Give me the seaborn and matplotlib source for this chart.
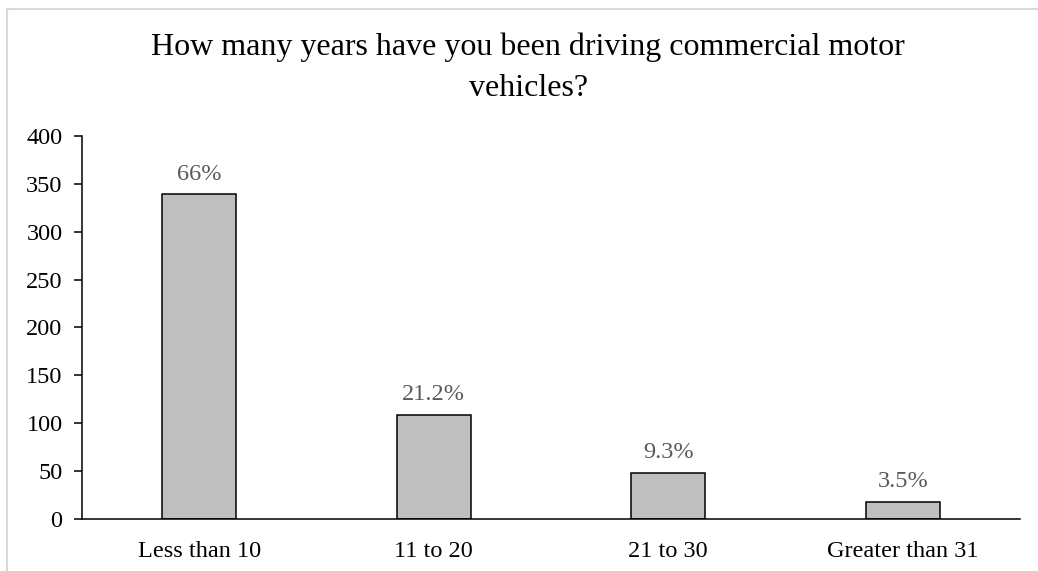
import matplotlib
matplotlib.use("Agg")
import matplotlib.pyplot as plt
import seaborn as sns
from matplotlib.patches import Rectangle

categories = ["Less than 10", "11 to 20", "21 to 30", "Greater than 31"]
counts = [339, 109, 48, 18]
pct_labels = ["66%", "21.2%", "9.3%", "3.5%"]
y_ticks = [0, 50, 100, 150, 200, 250, 300, 350, 400]
title = "How many years have you been driving commercial motor\nvehicles?"

sns.set_theme(style="white")
plt.rcParams["font.family"] = ["Liberation Serif", "DejaVu Serif"]

fig = plt.figure(figsize=(10.38, 5.71), dpi=100)
ax = fig.add_axes([0.079, 0.0911, 0.9037, 0.6707])

sns.barplot(x=categories, y=counts, color="#bfbfbf", edgecolor="black",
            linewidth=1.1, width=0.316, saturation=1, ax=ax)

for i, (v, lab) in enumerate(zip(counts, pct_labels)):
    ax.annotate(lab, xy=(i, v), xytext=(0, 7), textcoords="offset points",
                ha="center", va="bottom", fontsize=17.5, color="#595959")

ax.set_xlim(-0.5, 3.5)
ax.set_ylim(0, 400)
ax.set_yticks(y_ticks)
ax.set_xlabel("")
ax.set_ylabel("")
for s in ["top", "right"]:
    ax.spines[s].set_visible(False)
for s in ["left", "bottom"]:
    ax.spines[s].set_color("black")
    ax.spines[s].set_linewidth(1.1)
ax.tick_params(axis="y", which="major", left=True, length=6, width=1.1,
               color="black", labelsize=17.5, pad=8, labelcolor="black")
ax.tick_params(axis="x", bottom=False, labelsize=17.5, pad=10, labelcolor="black")

fig.text(0.509, 0.881, title, ha="center", va="center", fontsize=23,
         color="black", linespacing=1.52)

# light frame around the chart area
fig.patches.append(Rectangle((7 / 1038, -0.05), 1.1, 1 - 9 / 571 + 0.05,
                             transform=fig.transFigure, fill=False,
                             edgecolor="#d9d9d9", linewidth=1.5))

fig.savefig("out.png", dpi=100)
